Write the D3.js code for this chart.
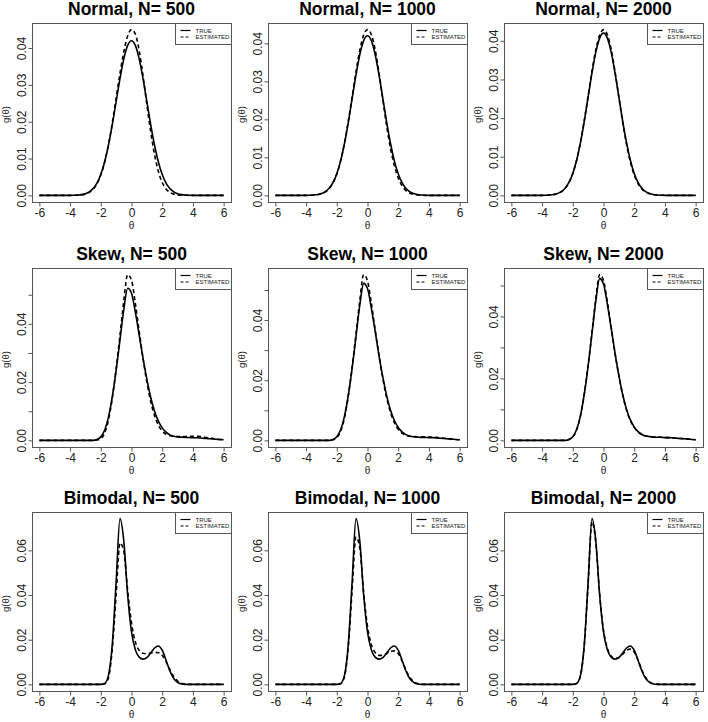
<!DOCTYPE html>
<html>
<head>
<meta charset="utf-8">
<script src="https://cdn.jsdelivr.net/npm/d3@7"></script>
<style>
  html, body { margin: 0; padding: 0; background: #fff; }
  svg { display: block; font-family: "Liberation Sans", Arial, sans-serif; }
</style>
</head>
<body>
<svg id="chart" width="708" height="722"></svg>
<script>
// ---------------- data ----------------
const theta = [-6, -5.75, -5.5, -5.25, -5, -4.75, -4.5, -4.25, -4, -3.75, -3.5, -3.25, -3, -2.75, -2.5, -2.25,
  -2, -1.75, -1.5, -1.25, -1, -0.75, -0.5, -0.25, 0, 0.25, 0.5, 0.75, 1, 1.25, 1.5, 1.75,
  2, 2.25, 2.5, 2.75, 3, 3.25, 3.5, 3.75, 4, 4.25, 4.5, 4.75, 5, 5.25, 5.5, 5.75, 6];

const distributions = ["Normal", "Skew", "Bimodal"];
const sampleSizes = [500, 1000, 2000];
const legendLabels = ["TRUE", "ESTIMATED"];
const xTicks = [-6, -4, -2, 0, 2, 4, 6];

const normalYTicks = [0, 0.01, 0.02, 0.03, 0.04];
const normalYLabels = [0, 0.01, 0.02, 0.03, 0.04];
const skewYTicks = [0, 0.01, 0.02, 0.03, 0.04, 0.05];
const skewYLabels = [0, 0.02, 0.04];
const bimodalYTicks = [0, 0.02, 0.04, 0.06];
const bimodalYLabels = [0, 0.02, 0.04, 0.06];

// true densities
const trueNormal = [0, 0, 0, 0, 0, 0, 0, 0.00001, 0.00001, 0.00004, 0.00009, 0.00021, 0.00047, 0.00096, 0.00185, 0.00334,
  0.00568, 0.00908, 0.01364, 0.01923, 0.02547, 0.03170, 0.03707, 0.04071, 0.04200, 0.04071, 0.03707, 0.03170, 0.02547, 0.01923, 0.01364, 0.00908,
  0.00568, 0.00334, 0.00185, 0.00096, 0.00047, 0.00021, 0.00009, 0.00004, 0.00001, 0.00001, 0, 0, 0, 0, 0, 0, 0];
const trueSkew = [0, 0, 0, 0, 0, 0, 0, 0, 0, 0, 0, 0, 0, 0, 0, 0.0003,
  0.0012, 0.0035, 0.0080, 0.0150, 0.0240, 0.0345, 0.0450, 0.0522, 0.0505, 0.0440, 0.0362, 0.0282, 0.0210, 0.0148, 0.0100, 0.0066,
  0.0043, 0.0028, 0.0019, 0.0014, 0.0012, 0.0011, 0.0010, 0.0010, 0.0009, 0.0009, 0.0008, 0.0007, 0.0006, 0.0005, 0.0004, 0.0003, 0.0002];
const trueBimodal = [0, 0, 0, 0, 0, 0, 0, 0, 0, 0, 0, 0, 0, 0, 0, 0,
  0, 0.0004, 0.0040, 0.0180, 0.0460, 0.0742, 0.0640, 0.0400, 0.0235, 0.0155, 0.0122, 0.0113, 0.0120, 0.0140, 0.0163, 0.0172,
  0.0153, 0.0108, 0.0060, 0.0026, 0.0009, 0.0002, 0, 0, 0, 0, 0, 0, 0, 0, 0, 0, 0];

// estimated densities
const estNormal500 = [0, 0, 0, 0, 0, 0, 0, 0, 0, 0.00002, 0.00005, 0.00014, 0.00035, 0.00080, 0.00165, 0.00315,
  0.00555, 0.00905, 0.01380, 0.01970, 0.02640, 0.03310, 0.03900, 0.04330, 0.04500, 0.04380, 0.03930, 0.03250, 0.02470, 0.01730, 0.01110, 0.00650,
  0.00350, 0.00175, 0.00080, 0.00034, 0.00013, 0.00005, 0.00002, 0, 0, 0, 0, 0, 0, 0, 0, 0, 0];
const estNormal1000 = [0, 0, 0, 0, 0, 0, 0, 0, 0, 0.00003, 0.00007, 0.00018, 0.00042, 0.00090, 0.00178, 0.00328,
  0.00565, 0.00910, 0.01375, 0.01950, 0.02600, 0.03250, 0.03820, 0.04220, 0.04360, 0.04230, 0.03830, 0.03220, 0.02510, 0.01820, 0.01230, 0.00780,
  0.00460, 0.00250, 0.00125, 0.00058, 0.00025, 0.00010, 0.00004, 0.00001, 0, 0, 0, 0, 0, 0, 0, 0, 0];
const estNormal2000 = [0, 0, 0, 0, 0, 0, 0, 0, 0.00001, 0.00004, 0.00009, 0.00020, 0.00046, 0.00094, 0.00182, 0.00332,
  0.00568, 0.00912, 0.01373, 0.01940, 0.02575, 0.03215, 0.03770, 0.04150, 0.04290, 0.04160, 0.03780, 0.03200, 0.02540, 0.01890, 0.01320, 0.00860,
  0.00530, 0.00305, 0.00165, 0.00084, 0.00040, 0.00018, 0.00007, 0.00003, 0.00001, 0, 0, 0, 0, 0, 0, 0, 0];

const estSkew500 = [0, 0, 0, 0, 0, 0, 0, 0, 0, 0, 0, 0, 0, 0, 0, 0.0001,
  0.0006, 0.0025, 0.0070, 0.0145, 0.0245, 0.0360, 0.0480, 0.0569, 0.0550, 0.0470, 0.0375, 0.0282, 0.0200, 0.0134, 0.0085, 0.0052,
  0.0032, 0.0021, 0.0016, 0.0014, 0.0013, 0.0013, 0.0013, 0.0014, 0.0014, 0.0014, 0.0013, 0.0011, 0.0009, 0.0007, 0.0005, 0.0003, 0.0002];
const estSkew1000 = [0, 0, 0, 0, 0, 0, 0, 0, 0, 0, 0, 0, 0, 0, 0, 0.0002,
  0.0009, 0.0030, 0.0075, 0.0148, 0.0243, 0.0353, 0.0466, 0.0551, 0.0530, 0.0456, 0.0368, 0.0282, 0.0205, 0.0141, 0.0093, 0.0059,
  0.0037, 0.0024, 0.0017, 0.0014, 0.0013, 0.0012, 0.0012, 0.0012, 0.0011, 0.0011, 0.0010, 0.0009, 0.0007, 0.0006, 0.0004, 0.0003, 0.0002];
const estSkew2000 = [0, 0, 0, 0, 0, 0, 0, 0, 0, 0, 0, 0, 0, 0, 0, 0.0003,
  0.0011, 0.0034, 0.0079, 0.0150, 0.0242, 0.0349, 0.0458, 0.0535, 0.0516, 0.0447, 0.0365, 0.0282, 0.0208, 0.0146, 0.0098, 0.0064,
  0.0042, 0.0027, 0.0019, 0.0014, 0.0012, 0.0011, 0.0010, 0.0010, 0.0009, 0.0009, 0.0008, 0.0007, 0.0006, 0.0005, 0.0004, 0.0003, 0.0002];

const estBimodal500 = [0, 0, 0, 0, 0, 0, 0, 0, 0, 0, 0, 0, 0, 0, 0, 0,
  0, 0.0002, 0.0030, 0.0160, 0.0400, 0.0633, 0.0595, 0.0420, 0.0275, 0.0190, 0.0152, 0.0139, 0.0137, 0.0140, 0.0143, 0.0142,
  0.0130, 0.0102, 0.0066, 0.0035, 0.0015, 0.0005, 0.0001, 0, 0, 0, 0, 0, 0, 0, 0, 0, 0];
const estBimodal1000 = [0, 0, 0, 0, 0, 0, 0, 0, 0, 0, 0, 0, 0, 0, 0, 0,
  0, 0.0003, 0.0034, 0.0168, 0.0425, 0.0660, 0.0610, 0.0410, 0.0260, 0.0178, 0.0143, 0.0130, 0.0130, 0.0138, 0.0148, 0.0150,
  0.0138, 0.0105, 0.0065, 0.0032, 0.0013, 0.0004, 0.0001, 0, 0, 0, 0, 0, 0, 0, 0, 0, 0];
const estBimodal2000 = [0, 0, 0, 0, 0, 0, 0, 0, 0, 0, 0, 0, 0, 0, 0, 0,
  0, 0.0004, 0.0038, 0.0176, 0.0452, 0.0728, 0.0635, 0.0402, 0.0242, 0.0162, 0.0127, 0.0116, 0.0120, 0.0135, 0.0152, 0.0158,
  0.0145, 0.0108, 0.0064, 0.0030, 0.0011, 0.0003, 0.0001, 0, 0, 0, 0, 0, 0, 0, 0, 0, 0];

// table built from the arrays above
const rowsSpec = [
  { truth: trueNormal, est: [estNormal500, estNormal1000, estNormal2000], ticks: normalYTicks, labels: normalYLabels },
  { truth: trueSkew, est: [estSkew500, estSkew1000, estSkew2000], ticks: skewYTicks, labels: skewYLabels },
  { truth: trueBimodal, est: [estBimodal500, estBimodal1000, estBimodal2000], ticks: bimodalYTicks, labels: bimodalYLabels }
];

// ---------------- layout ----------------
const colLeft = [32, 268, 504];
const rowTop = [23, 268, 512];
const boxW = 199, boxH = 179;
const axisColor = "#555";
const textColor = "#222";

const svg = d3.select("#chart");

rowsSpec.forEach((spec, r) => {
  sampleSizes.forEach((n, c) => {
    const left = colLeft[c], top = rowTop[r];
    const right = left + boxW, bottom = top + boxH;
    const est = spec.est[c];
    const M = Math.max(d3.max(spec.truth), d3.max(est));

    const x = d3.scaleLinear().domain([-6.48, 6.48]).range([left, right]);
    const y = d3.scaleLinear().domain([-0.04 * M, 1.04 * M]).range([bottom, top]);

    const g = svg.append("g");

    // title
    g.append("text")
      .attr("x", (left + right) / 2).attr("y", top - 8)
      .attr("text-anchor", "middle")
      .attr("font-size", 17.5).attr("font-weight", "bold").attr("fill", "#000")
      .text(`${distributions[r]}, N= ${n}`);

    // box
    g.append("rect")
      .attr("x", left + 0.5).attr("y", top + 0.5)
      .attr("width", boxW).attr("height", boxH)
      .attr("fill", "none").attr("stroke", axisColor).attr("stroke-width", 1);

    // x axis
    const xa = g.append("g").attr("transform", `translate(0,${bottom + 0.5})`)
      .call(d3.axisBottom(x).tickValues(xTicks).tickSize(4).tickPadding(2).tickFormat(d3.format("d")));
    xa.select(".domain").remove();
    xa.selectAll(".tick line").attr("stroke", axisColor);
    xa.selectAll(".tick text").attr("font-size", 12).attr("fill", textColor)
      .attr("font-family", "Liberation Sans, Arial, sans-serif")
      .text(d => (d < 0 ? "-" + Math.abs(d) : d));
    xa.append("line").attr("x1", x(xTicks[0])).attr("x2", x(xTicks[xTicks.length - 1]))
      .attr("y1", 0).attr("y2", 0).attr("stroke", axisColor);

    // y axis
    const ya = g.append("g").attr("transform", `translate(${left + 0.5},0)`)
      .call(d3.axisLeft(y).tickValues(spec.ticks).tickSize(4)
        .tickFormat(d => spec.labels.some(v => Math.abs(v - d) < 1e-9) ? d3.format(".2f")(d) : ""));
    ya.select(".domain").remove();
    ya.selectAll(".tick line").attr("stroke", axisColor);
    ya.selectAll(".tick text")
      .attr("x", 0).attr("dy", 0)
      .attr("transform", "translate(-7,0) rotate(-90)")
      .attr("text-anchor", "middle")
      .attr("font-size", 12).attr("fill", textColor)
      .attr("font-family", "Liberation Sans, Arial, sans-serif");
    ya.append("line").attr("y1", y(spec.ticks[0])).attr("y2", y(spec.ticks[spec.ticks.length - 1]))
      .attr("x1", 0).attr("x2", 0).attr("stroke", axisColor);

    // axis titles
    g.append("text")
      .attr("x", (left + right) / 2).attr("y", bottom + 26.5)
      .attr("text-anchor", "middle").attr("font-size", 10).attr("fill", textColor)
      .text("θ");
    g.append("text")
      .attr("transform", `translate(${left - 23},${(top + bottom) / 2 + 2}) rotate(-90)`)
      .attr("text-anchor", "middle").attr("font-size", 9.5).attr("fill", textColor)
      .text("g(θ)");

    // curves
    const line = d3.line()
      .x((d, i) => x(theta[i]))
      .y(d => y(d))
      .curve(d3.curveMonotoneX);

    g.append("path").datum(spec.truth)
      .attr("d", line).attr("fill", "none")
      .attr("stroke", "#000").attr("stroke-width", 1.6);
    g.append("path").datum(est)
      .attr("d", line).attr("fill", "none")
      .attr("stroke", "#000").attr("stroke-width", 1.6)
      .attr("stroke-dasharray", "4,3");

    // legend
    const lw = 56, lh = 21;
    const lg = g.append("g").attr("transform", `translate(${right - lw + 0.5},${top + 0.5})`);
    lg.append("rect").attr("width", lw).attr("height", lh)
      .attr("fill", "#fff").attr("stroke", axisColor).attr("stroke-width", 1);
    legendLabels.forEach((lab, k) => {
      const ly = 7 + k * 6.5;
      lg.append("line").attr("x1", 5).attr("x2", 15).attr("y1", ly).attr("y2", ly)
        .attr("stroke", "#000").attr("stroke-width", 1.2)
        .attr("stroke-dasharray", k === 1 ? "3,2" : null);
      lg.append("text").attr("x", 20).attr("y", ly + 2.1)
        .attr("font-size", 6).attr("fill", textColor).text(lab);
    });
  });
});
</script>
</body>
</html>
